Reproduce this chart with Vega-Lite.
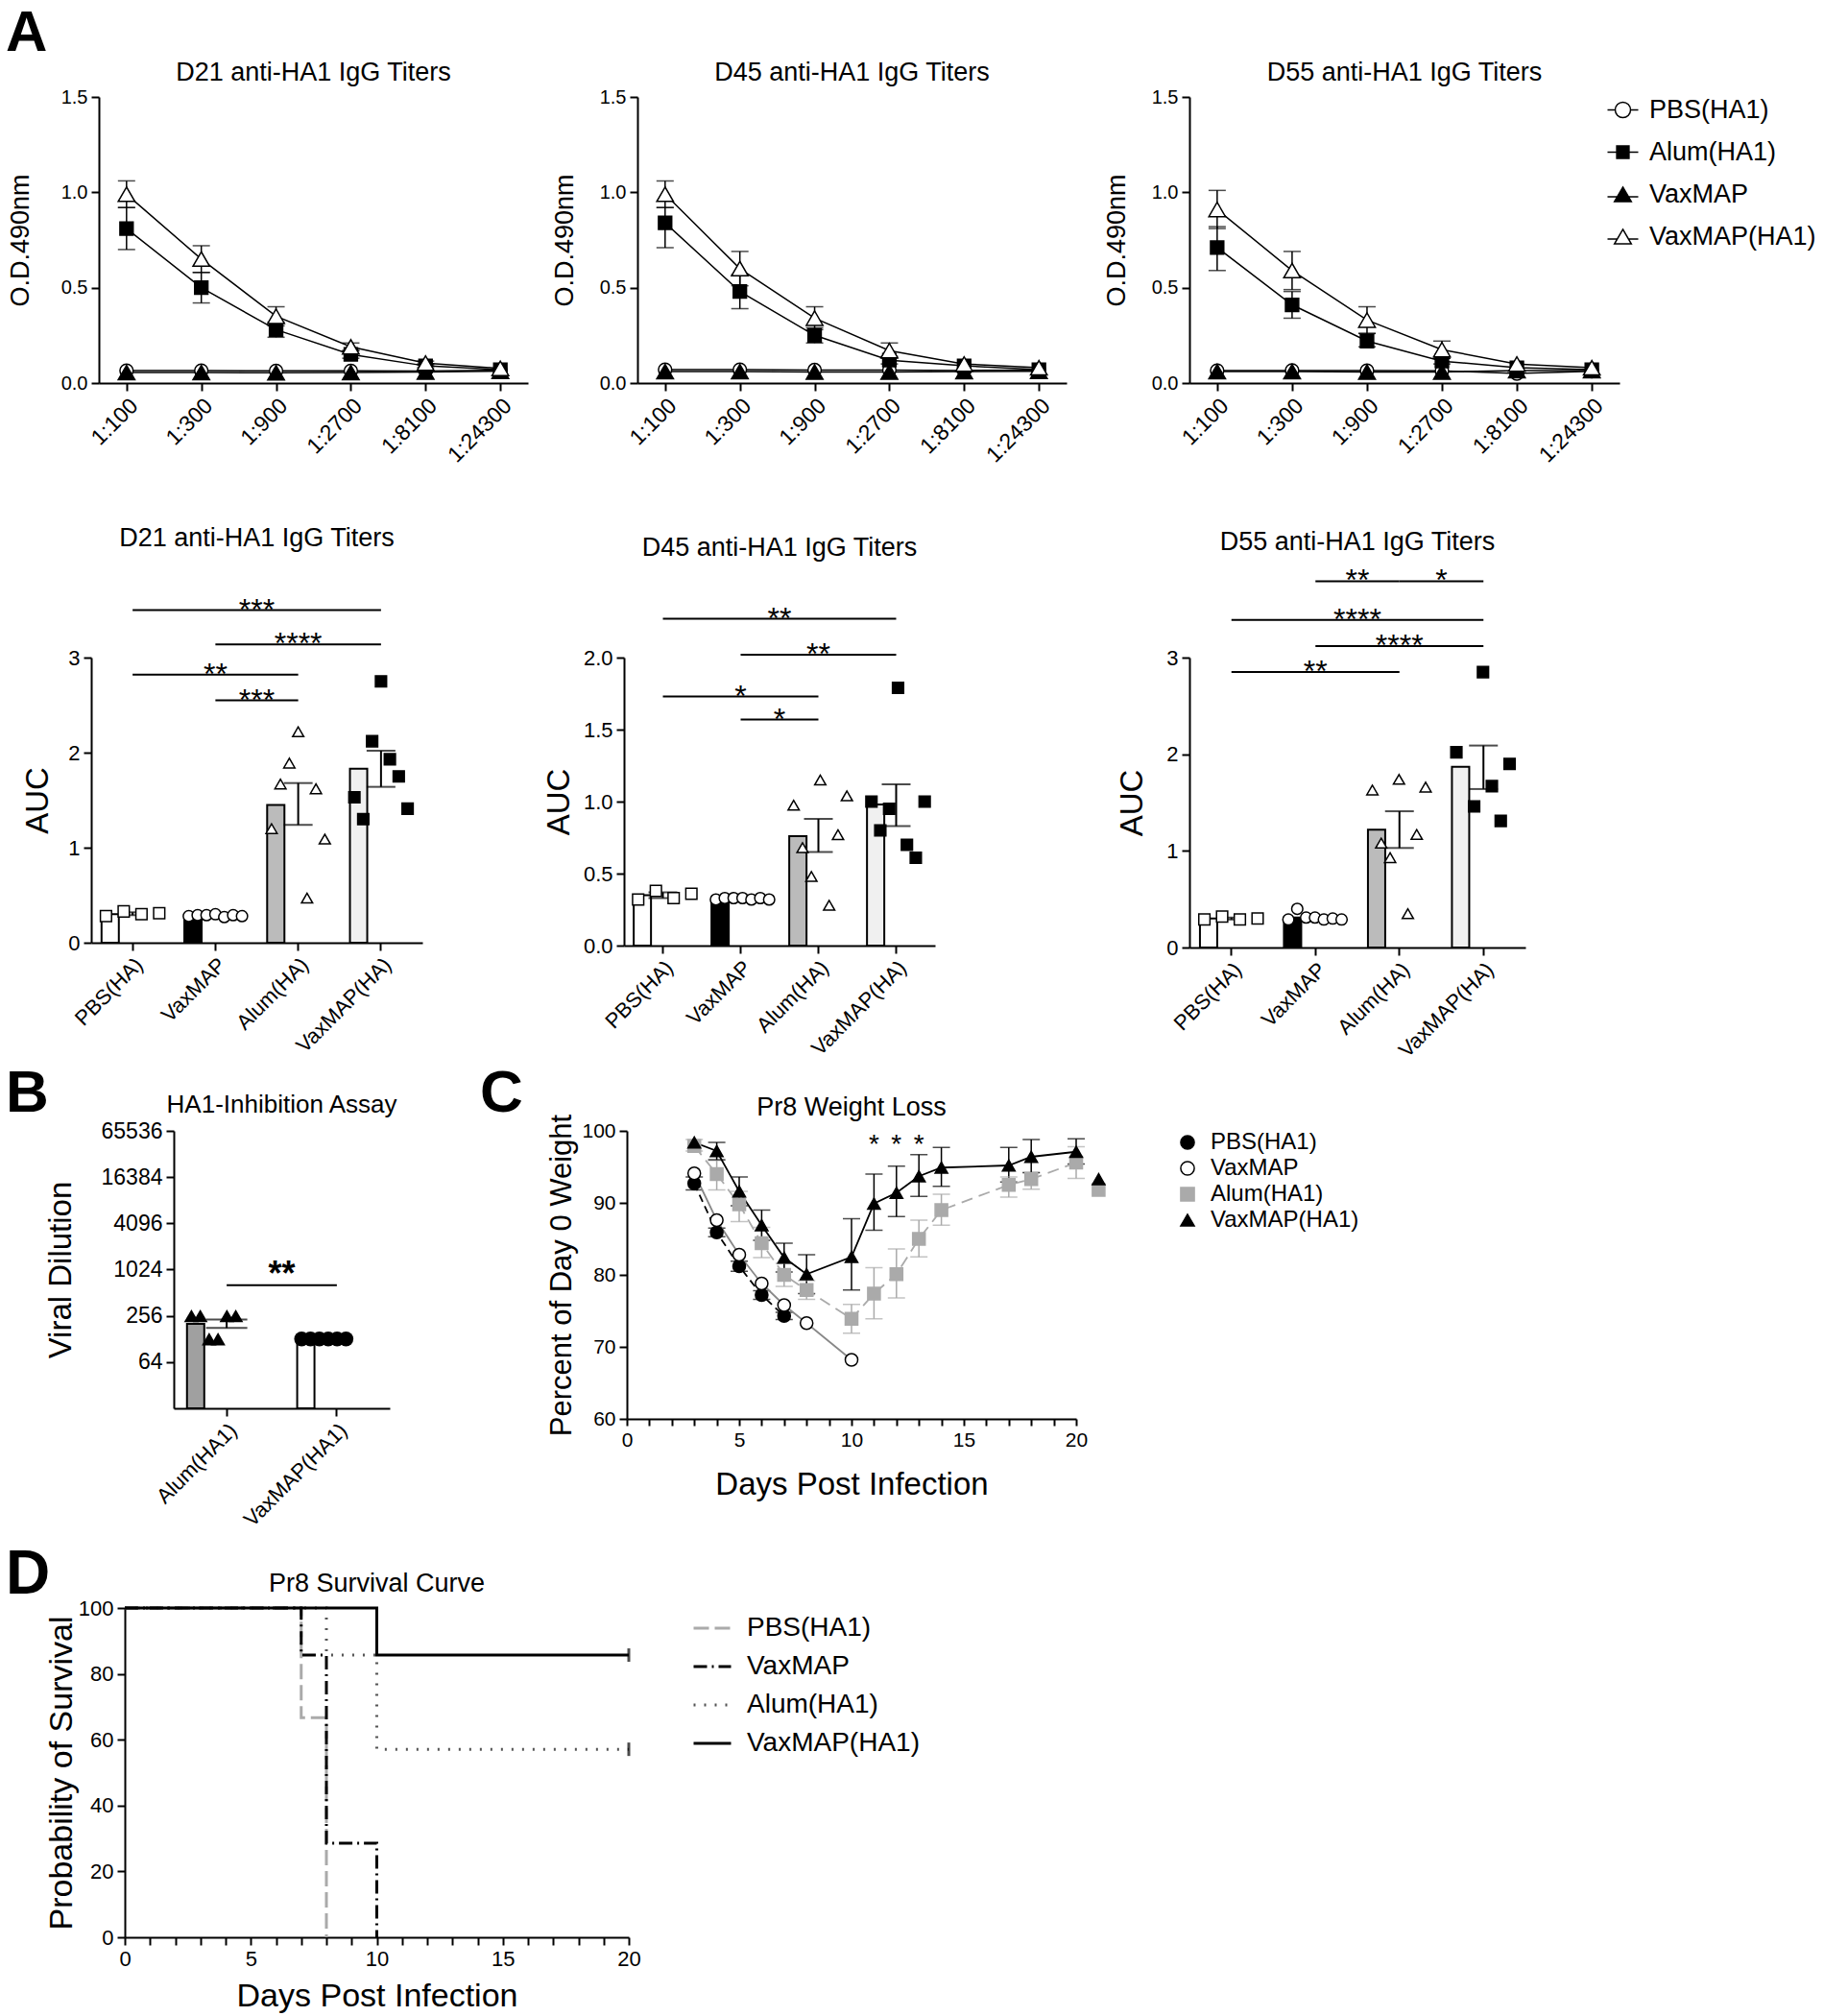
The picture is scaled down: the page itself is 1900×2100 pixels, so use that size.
{
  "$schema": "https://vega.github.io/schema/vega-lite/v6.json",
  "background": "white",
  "padding": 5,
  "config": {
    "font": "Liberation Sans",
    "view": {"stroke": null},
    "axis": {"domainColor": "black", "domainWidth": 2, "tickColor": "black", "tickWidth": 2, "tickSize": 8, "labelColor": "black", "titleColor": "black", "titleFontWeight": "normal", "grid": false, "labelFont": "Liberation Sans", "titleFont": "Liberation Sans", "labelPadding": 4},
    "title": {"fontWeight": "normal", "color": "black", "font": "Liberation Sans"},
    "legend": {"labelColor": "black", "labelFont": "Liberation Sans", "labelLimit": 400}
  },
  "datasets": {
    "od": [
      {"d":"D21","dil":"1:100","grp":"PBS(HA1)","od":0.065},{"d":"D21","dil":"1:300","grp":"PBS(HA1)","od":0.065},{"d":"D21","dil":"1:900","grp":"PBS(HA1)","od":0.064},{"d":"D21","dil":"1:2700","grp":"PBS(HA1)","od":0.064},{"d":"D21","dil":"1:8100","grp":"PBS(HA1)","od":0.063},{"d":"D21","dil":"1:24300","grp":"PBS(HA1)","od":0.068},
      {"d":"D21","dil":"1:100","grp":"VaxMAP","od":0.055},{"d":"D21","dil":"1:300","grp":"VaxMAP","od":0.055},{"d":"D21","dil":"1:900","grp":"VaxMAP","od":0.054},{"d":"D21","dil":"1:2700","grp":"VaxMAP","od":0.055},{"d":"D21","dil":"1:8100","grp":"VaxMAP","od":0.058},{"d":"D21","dil":"1:24300","grp":"VaxMAP","od":0.062},
      {"d":"D21","dil":"1:100","grp":"Alum(HA1)","od":0.81,"lo":0.70,"hi":0.92},{"d":"D21","dil":"1:300","grp":"Alum(HA1)","od":0.50,"lo":0.42,"hi":0.58},{"d":"D21","dil":"1:900","grp":"Alum(HA1)","od":0.28,"lo":0.24,"hi":0.32},{"d":"D21","dil":"1:2700","grp":"Alum(HA1)","od":0.15,"lo":0.13,"hi":0.17},{"d":"D21","dil":"1:8100","grp":"Alum(HA1)","od":0.09,"lo":0.08,"hi":0.10},{"d":"D21","dil":"1:24300","grp":"Alum(HA1)","od":0.07},
      {"d":"D21","dil":"1:100","grp":"VaxMAP(HA1)","od":0.99,"lo":0.92,"hi":1.06},{"d":"D21","dil":"1:300","grp":"VaxMAP(HA1)","od":0.65,"lo":0.58,"hi":0.72},{"d":"D21","dil":"1:900","grp":"VaxMAP(HA1)","od":0.35,"lo":0.30,"hi":0.40},{"d":"D21","dil":"1:2700","grp":"VaxMAP(HA1)","od":0.19,"lo":0.17,"hi":0.21},{"d":"D21","dil":"1:8100","grp":"VaxMAP(HA1)","od":0.105,"lo":0.095,"hi":0.115},{"d":"D21","dil":"1:24300","grp":"VaxMAP(HA1)","od":0.077},
      {"d":"D45","dil":"1:100","grp":"PBS(HA1)","od":0.07},{"d":"D45","dil":"1:300","grp":"PBS(HA1)","od":0.07},{"d":"D45","dil":"1:900","grp":"PBS(HA1)","od":0.068},{"d":"D45","dil":"1:2700","grp":"PBS(HA1)","od":0.068},{"d":"D45","dil":"1:8100","grp":"PBS(HA1)","od":0.066},{"d":"D45","dil":"1:24300","grp":"PBS(HA1)","od":0.068},
      {"d":"D45","dil":"1:100","grp":"VaxMAP","od":0.06},{"d":"D45","dil":"1:300","grp":"VaxMAP","od":0.06},{"d":"D45","dil":"1:900","grp":"VaxMAP","od":0.058},{"d":"D45","dil":"1:2700","grp":"VaxMAP","od":0.058},{"d":"D45","dil":"1:8100","grp":"VaxMAP","od":0.06},{"d":"D45","dil":"1:24300","grp":"VaxMAP","od":0.062},
      {"d":"D45","dil":"1:100","grp":"Alum(HA1)","od":0.84,"lo":0.71,"hi":0.92},{"d":"D45","dil":"1:300","grp":"Alum(HA1)","od":0.48,"lo":0.39,"hi":0.57},{"d":"D45","dil":"1:900","grp":"Alum(HA1)","od":0.25,"lo":0.21,"hi":0.29},{"d":"D45","dil":"1:2700","grp":"Alum(HA1)","od":0.12,"lo":0.10,"hi":0.14},{"d":"D45","dil":"1:8100","grp":"Alum(HA1)","od":0.09},{"d":"D45","dil":"1:24300","grp":"Alum(HA1)","od":0.07},
      {"d":"D45","dil":"1:100","grp":"VaxMAP(HA1)","od":0.99,"lo":0.92,"hi":1.06},{"d":"D45","dil":"1:300","grp":"VaxMAP(HA1)","od":0.60,"lo":0.51,"hi":0.69},{"d":"D45","dil":"1:900","grp":"VaxMAP(HA1)","od":0.34,"lo":0.28,"hi":0.40},{"d":"D45","dil":"1:2700","grp":"VaxMAP(HA1)","od":0.17,"lo":0.13,"hi":0.21},{"d":"D45","dil":"1:8100","grp":"VaxMAP(HA1)","od":0.10},{"d":"D45","dil":"1:24300","grp":"VaxMAP(HA1)","od":0.08},
      {"d":"D55","dil":"1:100","grp":"PBS(HA1)","od":0.065},{"d":"D55","dil":"1:300","grp":"PBS(HA1)","od":0.066},{"d":"D55","dil":"1:900","grp":"PBS(HA1)","od":0.065},{"d":"D55","dil":"1:2700","grp":"PBS(HA1)","od":0.064},{"d":"D55","dil":"1:8100","grp":"PBS(HA1)","od":0.05},{"d":"D55","dil":"1:24300","grp":"PBS(HA1)","od":0.062},
      {"d":"D55","dil":"1:100","grp":"VaxMAP","od":0.06},{"d":"D55","dil":"1:300","grp":"VaxMAP","od":0.06},{"d":"D55","dil":"1:900","grp":"VaxMAP","od":0.058},{"d":"D55","dil":"1:2700","grp":"VaxMAP","od":0.058},{"d":"D55","dil":"1:8100","grp":"VaxMAP","od":0.065},{"d":"D55","dil":"1:24300","grp":"VaxMAP","od":0.065},
      {"d":"D55","dil":"1:100","grp":"Alum(HA1)","od":0.71,"lo":0.59,"hi":0.82},{"d":"D55","dil":"1:300","grp":"Alum(HA1)","od":0.41,"lo":0.34,"hi":0.48},{"d":"D55","dil":"1:900","grp":"Alum(HA1)","od":0.22,"lo":0.19,"hi":0.26},{"d":"D55","dil":"1:2700","grp":"Alum(HA1)","od":0.115,"lo":0.10,"hi":0.13},{"d":"D55","dil":"1:8100","grp":"Alum(HA1)","od":0.08},{"d":"D55","dil":"1:24300","grp":"Alum(HA1)","od":0.07},
      {"d":"D55","dil":"1:100","grp":"VaxMAP(HA1)","od":0.91,"lo":0.81,"hi":1.01},{"d":"D55","dil":"1:300","grp":"VaxMAP(HA1)","od":0.59,"lo":0.49,"hi":0.69},{"d":"D55","dil":"1:900","grp":"VaxMAP(HA1)","od":0.33,"lo":0.26,"hi":0.40},{"d":"D55","dil":"1:2700","grp":"VaxMAP(HA1)","od":0.175,"lo":0.13,"hi":0.22},{"d":"D55","dil":"1:8100","grp":"VaxMAP(HA1)","od":0.10},{"d":"D55","dil":"1:24300","grp":"VaxMAP(HA1)","od":0.08}
    ],
    "auc": [
      {"d":"D21","grp":"PBS(HA)","rep":1,"v":0.28},{"d":"D21","grp":"PBS(HA)","rep":3,"v":0.33},{"d":"D21","grp":"PBS(HA)","rep":5,"v":0.30},{"d":"D21","grp":"PBS(HA)","rep":7,"v":0.31},
      {"d":"D21","grp":"VaxMAP","rep":1,"v":0.28},{"d":"D21","grp":"VaxMAP","rep":2,"v":0.29},{"d":"D21","grp":"VaxMAP","rep":3,"v":0.29},{"d":"D21","grp":"VaxMAP","rep":4,"v":0.30},{"d":"D21","grp":"VaxMAP","rep":5,"v":0.27},{"d":"D21","grp":"VaxMAP","rep":6,"v":0.29},{"d":"D21","grp":"VaxMAP","rep":7,"v":0.28},
      {"d":"D21","grp":"Alum(HA)","rep":1,"v":1.20},{"d":"D21","grp":"Alum(HA)","rep":2,"v":1.67},{"d":"D21","grp":"Alum(HA)","rep":3,"v":1.89},{"d":"D21","grp":"Alum(HA)","rep":4,"v":2.22},{"d":"D21","grp":"Alum(HA)","rep":5,"v":0.47},{"d":"D21","grp":"Alum(HA)","rep":6,"v":1.62},{"d":"D21","grp":"Alum(HA)","rep":7,"v":1.09},
      {"d":"D21","grp":"VaxMAP(HA)","rep":1,"v":1.53},{"d":"D21","grp":"VaxMAP(HA)","rep":2,"v":1.30},{"d":"D21","grp":"VaxMAP(HA)","rep":3,"v":2.12},{"d":"D21","grp":"VaxMAP(HA)","rep":4,"v":2.75},{"d":"D21","grp":"VaxMAP(HA)","rep":5,"v":1.93},{"d":"D21","grp":"VaxMAP(HA)","rep":6,"v":1.75},{"d":"D21","grp":"VaxMAP(HA)","rep":7,"v":1.41},
      {"d":"D45","grp":"PBS(HA)","rep":1,"v":0.32},{"d":"D45","grp":"PBS(HA)","rep":3,"v":0.38},{"d":"D45","grp":"PBS(HA)","rep":5,"v":0.33},{"d":"D45","grp":"PBS(HA)","rep":7,"v":0.36},
      {"d":"D45","grp":"VaxMAP","rep":1,"v":0.32},{"d":"D45","grp":"VaxMAP","rep":2,"v":0.33},{"d":"D45","grp":"VaxMAP","rep":3,"v":0.33},{"d":"D45","grp":"VaxMAP","rep":4,"v":0.33},{"d":"D45","grp":"VaxMAP","rep":5,"v":0.32},{"d":"D45","grp":"VaxMAP","rep":6,"v":0.33},{"d":"D45","grp":"VaxMAP","rep":7,"v":0.32},
      {"d":"D45","grp":"Alum(HA)","rep":1,"v":0.975},{"d":"D45","grp":"Alum(HA)","rep":2,"v":0.68},{"d":"D45","grp":"Alum(HA)","rep":3,"v":0.48},{"d":"D45","grp":"Alum(HA)","rep":4,"v":1.15},{"d":"D45","grp":"Alum(HA)","rep":5,"v":0.28},{"d":"D45","grp":"Alum(HA)","rep":6,"v":0.77},{"d":"D45","grp":"Alum(HA)","rep":7,"v":1.04},
      {"d":"D45","grp":"VaxMAP(HA)","rep":1,"v":1.0},{"d":"D45","grp":"VaxMAP(HA)","rep":2,"v":0.80},{"d":"D45","grp":"VaxMAP(HA)","rep":3,"v":0.95},{"d":"D45","grp":"VaxMAP(HA)","rep":4,"v":1.79},{"d":"D45","grp":"VaxMAP(HA)","rep":5,"v":0.70},{"d":"D45","grp":"VaxMAP(HA)","rep":6,"v":0.61},{"d":"D45","grp":"VaxMAP(HA)","rep":7,"v":1.0},
      {"d":"D55","grp":"PBS(HA)","rep":1,"v":0.29},{"d":"D55","grp":"PBS(HA)","rep":3,"v":0.32},{"d":"D55","grp":"PBS(HA)","rep":5,"v":0.29},{"d":"D55","grp":"PBS(HA)","rep":7,"v":0.30},
      {"d":"D55","grp":"VaxMAP","rep":1,"v":0.29},{"d":"D55","grp":"VaxMAP","rep":2,"v":0.40},{"d":"D55","grp":"VaxMAP","rep":3,"v":0.31},{"d":"D55","grp":"VaxMAP","rep":4,"v":0.31},{"d":"D55","grp":"VaxMAP","rep":5,"v":0.29},{"d":"D55","grp":"VaxMAP","rep":6,"v":0.30},{"d":"D55","grp":"VaxMAP","rep":7,"v":0.29},
      {"d":"D55","grp":"Alum(HA)","rep":1,"v":1.63},{"d":"D55","grp":"Alum(HA)","rep":2,"v":1.08},{"d":"D55","grp":"Alum(HA)","rep":3,"v":0.93},{"d":"D55","grp":"Alum(HA)","rep":4,"v":1.74},{"d":"D55","grp":"Alum(HA)","rep":5,"v":0.35},{"d":"D55","grp":"Alum(HA)","rep":6,"v":1.17},{"d":"D55","grp":"Alum(HA)","rep":7,"v":1.66},
      {"d":"D55","grp":"VaxMAP(HA)","rep":1,"v":2.02},{"d":"D55","grp":"VaxMAP(HA)","rep":3,"v":1.46},{"d":"D55","grp":"VaxMAP(HA)","rep":4,"v":2.85},{"d":"D55","grp":"VaxMAP(HA)","rep":5,"v":1.67},{"d":"D55","grp":"VaxMAP(HA)","rep":6,"v":1.31},{"d":"D55","grp":"VaxMAP(HA)","rep":7,"v":1.90}
    ],
    "aucbar": [
      {"d":"D21","grp":"PBS(HA)","mean":0.30,"lo":0.29,"hi":0.32},{"d":"D21","grp":"VaxMAP","mean":0.286},{"d":"D21","grp":"Alum(HA)","mean":1.45,"lo":1.24,"hi":1.68},{"d":"D21","grp":"VaxMAP(HA)","mean":1.83,"lo":1.64,"hi":2.02},
      {"d":"D45","grp":"PBS(HA)","mean":0.35,"lo":0.33,"hi":0.37},{"d":"D45","grp":"VaxMAP","mean":0.33},{"d":"D45","grp":"Alum(HA)","mean":0.76,"lo":0.65,"hi":0.88},{"d":"D45","grp":"VaxMAP(HA)","mean":0.98,"lo":0.83,"hi":1.12},
      {"d":"D55","grp":"PBS(HA)","mean":0.30,"lo":0.29,"hi":0.31},{"d":"D55","grp":"VaxMAP","mean":0.31},{"d":"D55","grp":"Alum(HA)","mean":1.22,"lo":1.03,"hi":1.41},{"d":"D55","grp":"VaxMAP(HA)","mean":1.87,"lo":1.64,"hi":2.09}
    ],
    "sig": [
      {"d":"D21","g1":"PBS(HA)","g2":"VaxMAP(HA)","y":3.5,"lab":"***"},{"d":"D21","g1":"VaxMAP","g2":"VaxMAP(HA)","y":3.14,"lab":"****"},{"d":"D21","g1":"PBS(HA)","g2":"Alum(HA)","y":2.82,"lab":"**"},{"d":"D21","g1":"VaxMAP","g2":"Alum(HA)","y":2.55,"lab":"***"},
      {"d":"D45","g1":"PBS(HA)","g2":"VaxMAP(HA)","y":2.27,"lab":"**"},{"d":"D45","g1":"VaxMAP","g2":"VaxMAP(HA)","y":2.02,"lab":"**"},{"d":"D45","g1":"PBS(HA)","g2":"Alum(HA)","y":1.73,"lab":"*"},{"d":"D45","g1":"VaxMAP","g2":"Alum(HA)","y":1.57,"lab":"*"},
      {"d":"D55","g1":"VaxMAP","g2":"Alum(HA)","y":3.79,"lab":"**"},{"d":"D55","g1":"Alum(HA)","g2":"VaxMAP(HA)","y":3.79,"lab":"*"},{"d":"D55","g1":"PBS(HA)","g2":"VaxMAP(HA)","y":3.39,"lab":"****"},{"d":"D55","g1":"VaxMAP","g2":"VaxMAP(HA)","y":3.12,"lab":"****"},{"d":"D55","g1":"PBS(HA)","g2":"Alum(HA)","y":2.85,"lab":"**"}
    ],
    "hai": [
      {"grp":"Alum(HA1)","rep":1,"v":256},{"grp":"Alum(HA1)","rep":2,"v":256},{"grp":"Alum(HA1)","rep":3,"v":128},{"grp":"Alum(HA1)","rep":4,"v":128},{"grp":"Alum(HA1)","rep":5,"v":256},{"grp":"Alum(HA1)","rep":6,"v":256},
      {"grp":"VaxMAP(HA1)","rep":1,"v":128},{"grp":"VaxMAP(HA1)","rep":2,"v":128},{"grp":"VaxMAP(HA1)","rep":3,"v":128},{"grp":"VaxMAP(HA1)","rep":4,"v":128},{"grp":"VaxMAP(HA1)","rep":5,"v":128},{"grp":"VaxMAP(HA1)","rep":6,"v":128}
    ],
    "haibar": [
      {"grp":"Alum(HA1)","mean":202,"lo":178,"hi":230},{"grp":"VaxMAP(HA1)","mean":128}
    ],
    "haisig": [
      {"g1":"Alum(HA1)","g2":"VaxMAP(HA1)","y":640,"lab":"**"}
    ],
    "wt": [
      {"grp":"PBS(HA1)","day":3,"w":92.7,"lo":91.8,"hi":93.6},{"grp":"PBS(HA1)","day":4,"w":85.9,"lo":85.3,"hi":86.5},{"grp":"PBS(HA1)","day":5,"w":81.2,"lo":80.5,"hi":81.9},{"grp":"PBS(HA1)","day":6,"w":77.2,"lo":76.6,"hi":77.8},{"grp":"PBS(HA1)","day":7,"w":74.3,"lo":73.8,"hi":74.8},
      {"grp":"VaxMAP","day":3,"w":94.1},{"grp":"VaxMAP","day":4,"w":87.6},{"grp":"VaxMAP","day":5,"w":82.8},{"grp":"VaxMAP","day":6,"w":78.8},{"grp":"VaxMAP","day":7,"w":75.8},{"grp":"VaxMAP","day":8,"w":73.3},{"grp":"VaxMAP","day":10,"w":68.2},
      {"grp":"Alum(HA1)","day":3,"w":97.9,"lo":97.2,"hi":98.8},{"grp":"Alum(HA1)","day":4,"w":94.0,"lo":91.8,"hi":95.9},{"grp":"Alum(HA1)","day":5,"w":89.8,"lo":87.4,"hi":91.6},{"grp":"Alum(HA1)","day":6,"w":84.4,"lo":82.4,"hi":86.6},{"grp":"Alum(HA1)","day":7,"w":80.0,"lo":78.4,"hi":81.6},{"grp":"Alum(HA1)","day":8,"w":77.9,"lo":76.6,"hi":79.2},{"grp":"Alum(HA1)","day":10,"w":73.9,"lo":71.9,"hi":75.9},{"grp":"Alum(HA1)","day":11,"w":77.4,"lo":73.9,"hi":81.0},{"grp":"Alum(HA1)","day":12,"w":80.1,"lo":76.8,"hi":83.6},{"grp":"Alum(HA1)","day":13,"w":85.0,"lo":82.5,"hi":87.6},{"grp":"Alum(HA1)","day":14,"w":89.0,"lo":86.9,"hi":91.2},{"grp":"Alum(HA1)","day":17,"w":92.5,"lo":90.8,"hi":93.6},{"grp":"Alum(HA1)","day":18,"w":93.3,"lo":91.9,"hi":94.2},{"grp":"Alum(HA1)","day":20,"w":95.6,"lo":93.4,"hi":97.8},{"grp":"Alum(HA1)","day":21,"w":91.8},
      {"grp":"VaxMAP(HA1)","day":3,"w":98.4},{"grp":"VaxMAP(HA1)","day":4,"w":97.2,"lo":96.0,"hi":98.4},{"grp":"VaxMAP(HA1)","day":5,"w":91.6,"lo":89.6,"hi":93.6},{"grp":"VaxMAP(HA1)","day":6,"w":86.9,"lo":84.8,"hi":89.0},{"grp":"VaxMAP(HA1)","day":7,"w":82.4,"lo":80.4,"hi":84.4},{"grp":"VaxMAP(HA1)","day":8,"w":80.1,"lo":77.4,"hi":82.8},{"grp":"VaxMAP(HA1)","day":10,"w":82.5,"lo":77.9,"hi":87.8},{"grp":"VaxMAP(HA1)","day":11,"w":89.9,"lo":86.2,"hi":94.0},{"grp":"VaxMAP(HA1)","day":12,"w":91.4,"lo":88.1,"hi":95.1},{"grp":"VaxMAP(HA1)","day":13,"w":93.7,"lo":90.9,"hi":96.7},{"grp":"VaxMAP(HA1)","day":14,"w":94.9,"lo":92.3,"hi":97.7},{"grp":"VaxMAP(HA1)","day":17,"w":95.2,"lo":92.9,"hi":97.7},{"grp":"VaxMAP(HA1)","day":18,"w":96.4,"lo":94.2,"hi":98.8},{"grp":"VaxMAP(HA1)","day":20,"w":97.1,"lo":95.4,"hi":98.9},{"grp":"VaxMAP(HA1)","day":21,"w":93.3}
    ],
    "wtsig": [
      {"day":11,"y":98.0,"lab":"*"},{"day":12,"y":98.0,"lab":"*"},{"day":13,"y":98.0,"lab":"*"}
    ],
    "surv": [
      {"grp":"PBS(HA1)","day":0,"s":100},{"grp":"PBS(HA1)","day":7,"s":66.7},{"grp":"PBS(HA1)","day":8,"s":0},
      {"grp":"VaxMAP","day":0,"s":100},{"grp":"VaxMAP","day":7,"s":85.7},{"grp":"VaxMAP","day":8,"s":28.6},{"grp":"VaxMAP","day":10,"s":0},
      {"grp":"Alum(HA1)","day":0,"s":100},{"grp":"Alum(HA1)","day":8,"s":85.7},{"grp":"Alum(HA1)","day":10,"s":57.1},{"grp":"Alum(HA1)","day":20,"s":57.1},
      {"grp":"VaxMAP(HA1)","day":0,"s":100},{"grp":"VaxMAP(HA1)","day":10,"s":85.7},{"grp":"VaxMAP(HA1)","day":20,"s":85.7}
    ]
  },
  "columns": 1,
  "spacing": 59,
  "resolve": {"scale": {"color": "independent", "fill": "independent", "stroke": "independent", "shape": "independent", "strokeDash": "independent", "size": "independent"}},
  "concat": [
    {
      "title": {"text": "A", "anchor": "start", "fontSize": 60, "fontWeight": "bold", "offset": 2, "dy": 6},
      "spacing": 0,
      "resolve": {"scale": {"color": "independent", "fill": "independent", "stroke": "independent", "shape": "independent", "strokeDash": "independent", "size": "independent"}},
      "hconcat": [
        {"width": 1, "height": 1, "data": {"values": [{}]}, "mark": {"type": "text", "text": ""}},
        {
          "spacing": 38,
          "resolve": {"scale": {"color": "independent", "fill": "independent", "stroke": "independent", "shape": "independent", "strokeDash": "independent", "size": "independent"}},
          "hconcat": [
            {
              "spacing": 24,
              "resolve": {"scale": {"color": "independent", "fill": "independent", "stroke": "independent", "shape": "independent", "strokeDash": "independent", "size": "independent"}},
              "hconcat": [
                {
                  "width": 447, "height": 298,
                  "title": {"text": "D21 anti-HA1 IgG Titers", "fontSize": 27, "offset": 1},
                  "data": {"name": "od"},
                  "transform": [{"filter": "datum.d === 'D21'"}],
                  "encoding": {"x": {"field": "dil", "type": "nominal", "sort": ["1:100","1:300","1:900","1:2700","1:8100","1:24300"], "scale": {"type": "point", "padding": 0.37}, "axis": {"title": null, "labelAngle": -45, "labelAlign": "right", "labelBaseline": "top", "labelFontSize": 23}}},
                  "layer": [
                    {"transform": [{"filter": "isValid(datum.hi)"}], "mark": {"type": "rule", "color": "black", "strokeWidth": 1.5}, "encoding": {"y": {"field": "lo", "type": "quantitative", "scale": {"domain": [0, 1.5], "nice": false}}, "y2": {"field": "hi"}}},
                    {"transform": [{"filter": "isValid(datum.hi)"}], "mark": {"type": "tick", "color": "black", "thickness": 1.5, "size": 18, "orient": "horizontal"}, "encoding": {"y": {"field": "hi", "type": "quantitative", "scale": {"domain": [0, 1.5], "nice": false}}}},
                    {"transform": [{"filter": "isValid(datum.lo)"}], "mark": {"type": "tick", "color": "black", "thickness": 1.5, "size": 18, "orient": "horizontal"}, "encoding": {"y": {"field": "lo", "type": "quantitative", "scale": {"domain": [0, 1.5], "nice": false}}}},
                    {"mark": {"type": "line", "color": "black", "strokeWidth": 1.5}, "encoding": {"y": {"field": "od", "type": "quantitative", "scale": {"domain": [0, 1.5], "nice": false}, "axis": {"title": "O.D.490nm", "titleFontSize": 27, "values": [0, 0.5, 1, 1.5], "format": ".1f", "labelFontSize": 20, "titlePadding": 28}}, "detail": {"field": "grp"}}},
                    {"transform": [{"filter": "datum.grp === 'PBS(HA1)' || datum.grp === 'Alum(HA1)'"}], "mark": {"type": "point", "filled": true, "size": 190, "stroke": "black", "strokeWidth": 1.5, "opacity": 1}, "encoding": {"y": {"field": "od", "type": "quantitative", "scale": {"domain": [0, 1.5], "nice": false}}, "shape": {"field": "grp", "type": "nominal", "scale": {"domain": ["PBS(HA1)","Alum(HA1)","VaxMAP","VaxMAP(HA1)"], "range": ["circle","square","triangle-up","triangle-up"]}, "legend": null}, "fill": {"field": "grp", "type": "nominal", "scale": {"domain": ["PBS(HA1)","Alum(HA1)","VaxMAP","VaxMAP(HA1)"], "range": ["white","black","black","white"]}, "legend": null}}},
                    {"transform": [{"filter": "datum.grp === 'VaxMAP' || datum.grp === 'VaxMAP(HA1)'"}], "mark": {"type": "point", "filled": true, "size": 300, "stroke": "black", "strokeWidth": 1.5, "opacity": 1}, "encoding": {"y": {"field": "od", "type": "quantitative", "scale": {"domain": [0, 1.5], "nice": false}}, "shape": {"field": "grp", "type": "nominal", "scale": {"domain": ["PBS(HA1)","Alum(HA1)","VaxMAP","VaxMAP(HA1)"], "range": ["circle","square","triangle-up","triangle-up"]}, "legend": null}, "fill": {"field": "grp", "type": "nominal", "scale": {"domain": ["PBS(HA1)","Alum(HA1)","VaxMAP","VaxMAP(HA1)"], "range": ["white","black","black","white"]}, "legend": null}}}
                  ]
                },
                {
                  "width": 447, "height": 298,
                  "title": {"text": "D45 anti-HA1 IgG Titers", "fontSize": 27, "offset": 1},
                  "data": {"name": "od"},
                  "transform": [{"filter": "datum.d === 'D45'"}],
                  "encoding": {"x": {"field": "dil", "type": "nominal", "sort": ["1:100","1:300","1:900","1:2700","1:8100","1:24300"], "scale": {"type": "point", "padding": 0.37}, "axis": {"title": null, "labelAngle": -45, "labelAlign": "right", "labelBaseline": "top", "labelFontSize": 23}}},
                  "layer": [
                    {"transform": [{"filter": "isValid(datum.hi)"}], "mark": {"type": "rule", "color": "black", "strokeWidth": 1.5}, "encoding": {"y": {"field": "lo", "type": "quantitative", "scale": {"domain": [0, 1.5], "nice": false}}, "y2": {"field": "hi"}}},
                    {"transform": [{"filter": "isValid(datum.hi)"}], "mark": {"type": "tick", "color": "black", "thickness": 1.5, "size": 18, "orient": "horizontal"}, "encoding": {"y": {"field": "hi", "type": "quantitative", "scale": {"domain": [0, 1.5], "nice": false}}}},
                    {"transform": [{"filter": "isValid(datum.lo)"}], "mark": {"type": "tick", "color": "black", "thickness": 1.5, "size": 18, "orient": "horizontal"}, "encoding": {"y": {"field": "lo", "type": "quantitative", "scale": {"domain": [0, 1.5], "nice": false}}}},
                    {"mark": {"type": "line", "color": "black", "strokeWidth": 1.5}, "encoding": {"y": {"field": "od", "type": "quantitative", "scale": {"domain": [0, 1.5], "nice": false}, "axis": {"title": "O.D.490nm", "titleFontSize": 27, "values": [0, 0.5, 1, 1.5], "format": ".1f", "labelFontSize": 20, "titlePadding": 22}}, "detail": {"field": "grp"}}},
                    {"transform": [{"filter": "datum.grp === 'PBS(HA1)' || datum.grp === 'Alum(HA1)'"}], "mark": {"type": "point", "filled": true, "size": 190, "stroke": "black", "strokeWidth": 1.5, "opacity": 1}, "encoding": {"y": {"field": "od", "type": "quantitative", "scale": {"domain": [0, 1.5], "nice": false}}, "shape": {"field": "grp", "type": "nominal", "scale": {"domain": ["PBS(HA1)","Alum(HA1)","VaxMAP","VaxMAP(HA1)"], "range": ["circle","square","triangle-up","triangle-up"]}, "legend": null}, "fill": {"field": "grp", "type": "nominal", "scale": {"domain": ["PBS(HA1)","Alum(HA1)","VaxMAP","VaxMAP(HA1)"], "range": ["white","black","black","white"]}, "legend": null}}},
                    {"transform": [{"filter": "datum.grp === 'VaxMAP' || datum.grp === 'VaxMAP(HA1)'"}], "mark": {"type": "point", "filled": true, "size": 300, "stroke": "black", "strokeWidth": 1.5, "opacity": 1}, "encoding": {"y": {"field": "od", "type": "quantitative", "scale": {"domain": [0, 1.5], "nice": false}}, "shape": {"field": "grp", "type": "nominal", "scale": {"domain": ["PBS(HA1)","Alum(HA1)","VaxMAP","VaxMAP(HA1)"], "range": ["circle","square","triangle-up","triangle-up"]}, "legend": null}, "fill": {"field": "grp", "type": "nominal", "scale": {"domain": ["PBS(HA1)","Alum(HA1)","VaxMAP","VaxMAP(HA1)"], "range": ["white","black","black","white"]}, "legend": null}}}
                  ]
                }
              ]
            },
            {
              "resolve": {"scale": {"color": "independent", "fill": "independent", "stroke": "independent", "shape": "independent", "strokeDash": "independent", "size": "independent"}},
              "vconcat": [
                {
                  "width": 448, "height": 298,
                  "title": {"text": "D55 anti-HA1 IgG Titers", "fontSize": 27, "offset": 1},
                  "data": {"name": "od"},
                  "transform": [{"filter": "datum.d === 'D55'"}],
                  "encoding": {"x": {"field": "dil", "type": "nominal", "sort": ["1:100","1:300","1:900","1:2700","1:8100","1:24300"], "scale": {"type": "point", "padding": 0.37}, "axis": {"title": null, "labelAngle": -45, "labelAlign": "right", "labelBaseline": "top", "labelFontSize": 23}}},
                  "resolve": {"scale": {"shape": "independent", "fill": "independent", "stroke": "independent"}},
                  "layer": [
                    {"transform": [{"filter": "isValid(datum.hi)"}], "mark": {"type": "rule", "color": "black", "strokeWidth": 1.5}, "encoding": {"y": {"field": "lo", "type": "quantitative", "scale": {"domain": [0, 1.5], "nice": false}}, "y2": {"field": "hi"}}},
                    {"transform": [{"filter": "isValid(datum.hi)"}], "mark": {"type": "tick", "color": "black", "thickness": 1.5, "size": 18, "orient": "horizontal"}, "encoding": {"y": {"field": "hi", "type": "quantitative", "scale": {"domain": [0, 1.5], "nice": false}}}},
                    {"transform": [{"filter": "isValid(datum.lo)"}], "mark": {"type": "tick", "color": "black", "thickness": 1.5, "size": 18, "orient": "horizontal"}, "encoding": {"y": {"field": "lo", "type": "quantitative", "scale": {"domain": [0, 1.5], "nice": false}}}},
                    {"mark": {"type": "line", "color": "black", "strokeWidth": 1.5}, "encoding": {"y": {"field": "od", "type": "quantitative", "scale": {"domain": [0, 1.5], "nice": false}, "axis": {"title": "O.D.490nm", "titleFontSize": 27, "values": [0, 0.5, 1, 1.5], "format": ".1f", "labelFontSize": 20, "titlePadding": 22}}, "detail": {"field": "grp"}}},
                    {"transform": [{"filter": "datum.grp === 'PBS(HA1)' || datum.grp === 'Alum(HA1)'"}], "mark": {"type": "point", "filled": true, "size": 190, "stroke": "black", "strokeWidth": 1.5, "opacity": 1}, "encoding": {"y": {"field": "od", "type": "quantitative", "scale": {"domain": [0, 1.5], "nice": false}}, "shape": {"field": "grp", "type": "nominal", "scale": {"domain": ["PBS(HA1)","Alum(HA1)","VaxMAP","VaxMAP(HA1)"], "range": ["circle","square","triangle-up","triangle-up"]}, "legend": null}, "fill": {"field": "grp", "type": "nominal", "scale": {"domain": ["PBS(HA1)","Alum(HA1)","VaxMAP","VaxMAP(HA1)"], "range": ["white","black","black","white"]}, "legend": null}}},
                    {"transform": [{"filter": "datum.grp === 'VaxMAP' || datum.grp === 'VaxMAP(HA1)'"}], "mark": {"type": "point", "filled": true, "size": 300, "stroke": "black", "strokeWidth": 1.5, "opacity": 1}, "encoding": {"y": {"field": "od", "type": "quantitative", "scale": {"domain": [0, 1.5], "nice": false}}, "shape": {"field": "grp", "type": "nominal", "scale": {"domain": ["PBS(HA1)","Alum(HA1)","VaxMAP","VaxMAP(HA1)"], "range": ["circle","square","triangle-up","triangle-up"]}, "legend": null}, "fill": {"field": "grp", "type": "nominal", "scale": {"domain": ["PBS(HA1)","Alum(HA1)","VaxMAP","VaxMAP(HA1)"], "range": ["white","black","black","white"]}, "legend": null}}},
                    {"transform": [{"filter": "datum.d === 'none'"}], "mark": {"type": "point", "filled": true, "opacity": 1, "strokeWidth": 1.5}, "encoding": {"y": {"field": "od", "type": "quantitative", "scale": {"domain": [0, 1.5], "nice": false}},
                      "shape": {"field": "grp", "type": "nominal", "scale": {"domain": ["PBS(HA1)","Alum(HA1)","VaxMAP","VaxMAP(HA1)"], "range": ["M-2,0H-1M1,0H2M-1,0A1,1,0,1,1,1,0A1,1,0,1,1,-1,0Z", "M-2,0H-0.8M0.8,0H2M-0.8,-0.8H0.8V0.8H-0.8Z", "M-2,0.3H-0.75M0.75,0.3H2M0,-0.95L1.1,0.95H-1.1Z", "M-2,0.3H-0.75M0.75,0.3H2M0,-0.95L1.1,0.95H-1.1Z"]}, "legend": {"title": null, "orient": "right", "offset": -10, "labelFontSize": 27, "labelOffset": 14, "rowPadding": 16, "symbolSize": 256, "symbolStrokeWidth": 1.5, "symbolOpacity": 1, "padding": 0}},
                      "fill": {"field": "grp", "type": "nominal", "scale": {"domain": ["PBS(HA1)","Alum(HA1)","VaxMAP","VaxMAP(HA1)"], "range": ["white","black","black","white"]}},
                      "stroke": {"field": "grp", "type": "nominal", "scale": {"domain": ["PBS(HA1)","Alum(HA1)","VaxMAP","VaxMAP(HA1)"], "range": ["black","black","black","black"]}}}}
                  ]
                }
              ]
            }
          ]
        }
      ]
    },
    {
      "columns": 1,
      "spacing": 1,
      "resolve": {"scale": {"color": "independent", "fill": "independent", "stroke": "independent", "shape": "independent", "strokeDash": "independent", "size": "independent"}},
      "concat": [
        {
          "spacing": 0,
          "resolve": {"scale": {"color": "independent", "fill": "independent", "stroke": "independent", "shape": "independent", "strokeDash": "independent", "size": "independent"}},
          "hconcat": [
            {"width": 17, "height": 1, "data": {"values": [{}]}, "mark": {"type": "text", "text": ""}},
            {
              "spacing": 189,
              "resolve": {"scale": {"color": "independent", "fill": "independent", "stroke": "independent", "shape": "independent", "strokeDash": "independent", "size": "independent"}},
              "hconcat": [
                {
                  "spacing": 126,
                  "resolve": {"scale": {"color": "independent", "fill": "independent", "stroke": "independent", "shape": "independent", "strokeDash": "independent", "size": "independent"}},
                  "hconcat": [
                    {
                      "width": 345, "height": 297,
                      "title": {"text": "D21 anti-HA1 IgG Titers", "fontSize": 27, "offset": 45},
                      "resolve": {"scale": {"x": "independent"}},
                      "layer": [
                        {"data": {"name": "aucbar"}, "transform": [{"filter": "datum.d === 'D21'"}],
                         "encoding": {"x": {"field": "grp", "type": "nominal", "sort": ["PBS(HA)","VaxMAP","Alum(HA)","VaxMAP(HA)"], "scale": {"type": "band", "paddingInner": 0.25, "paddingOuter": 0.125}, "axis": {"title": null, "labelAngle": -45, "labelAlign": "right", "labelBaseline": "top", "labelFontSize": 22}}},
                         "layer": [
                          {"mark": {"type": "bar", "stroke": "black", "strokeWidth": 2}, "encoding": {"y": {"field": "mean", "type": "quantitative", "scale": {"domain": [0, 3], "nice": false}, "axis": {"title": "AUC", "titleFontSize": 33, "values": [0, 1, 2, 3], "format": "d", "labelFontSize": 22, "titlePadding": 14}}, "color": {"field": "grp", "type": "nominal", "scale": {"domain": ["PBS(HA)","VaxMAP","Alum(HA)","VaxMAP(HA)"], "range": ["white","black","#bbbbbb","#f0f0f0"]}, "legend": null}}},
                          {"transform": [{"filter": "isValid(datum.hi)"}], "mark": {"type": "rule", "color": "black", "strokeWidth": 2}, "encoding": {"y": {"field": "lo", "type": "quantitative", "scale": {"domain": [0, 3], "nice": false}}, "y2": {"field": "hi"}}},
                          {"transform": [{"filter": "isValid(datum.hi)"}], "mark": {"type": "tick", "color": "black", "thickness": 2, "size": 30, "orient": "horizontal"}, "encoding": {"y": {"field": "hi", "type": "quantitative", "scale": {"domain": [0, 3], "nice": false}}}},
                          {"transform": [{"filter": "isValid(datum.lo)"}], "mark": {"type": "tick", "color": "black", "thickness": 2, "size": 30, "orient": "horizontal"}, "encoding": {"y": {"field": "lo", "type": "quantitative", "scale": {"domain": [0, 3], "nice": false}}}}
                         ]},
                        {"data": {"name": "auc"}, "transform": [{"filter": "datum.d === 'D21'"}], "mark": {"type": "point", "filled": true, "size": 135, "stroke": "black", "strokeWidth": 1.5, "opacity": 1}, "encoding": {"x": {"field": "grp", "type": "nominal", "sort": ["PBS(HA)","VaxMAP","Alum(HA)","VaxMAP(HA)"], "scale": {"type": "band", "paddingInner": 0.25, "paddingOuter": 0.125}, "axis": null}, "xOffset": {"field": "rep", "type": "nominal", "scale": {"domain": [1,2,3,4,5,6,7]}}, "y": {"field": "v", "type": "quantitative", "scale": {"domain": [0, 3], "nice": false}}, "shape": {"field": "grp", "type": "nominal", "scale": {"domain": ["PBS(HA)","VaxMAP","Alum(HA)","VaxMAP(HA)"], "range": ["square","circle","triangle-up","square"]}, "legend": null}, "fill": {"field": "grp", "type": "nominal", "scale": {"domain": ["PBS(HA)","VaxMAP","Alum(HA)","VaxMAP(HA)"], "range": ["white","white","white","black"]}, "legend": null}}},
                        {"data": {"name": "sig"}, "transform": [{"filter": "datum.d === 'D21'"}, {"calculate": "indexof(['PBS(HA)','VaxMAP','Alum(HA)','VaxMAP(HA)'], datum.g1)", "as": "i1"}, {"calculate": "indexof(['PBS(HA)','VaxMAP','Alum(HA)','VaxMAP(HA)'], datum.g2)", "as": "i2"}, {"calculate": "(datum.i1 + datum.i2) / 2", "as": "xm"}],
                         "layer": [
                          {"mark": {"type": "rule", "color": "black", "strokeWidth": 2}, "encoding": {"x": {"field": "i1", "type": "quantitative", "scale": {"domain": [-0.5, 3.5], "nice": false, "zero": false}, "axis": null}, "x2": {"field": "i2"}, "y": {"field": "y", "type": "quantitative", "scale": {"domain": [0, 3], "nice": false}}}},
                          {"mark": {"type": "text", "fontSize": 32, "baseline": "middle", "color": "black"}, "encoding": {"x": {"field": "xm", "type": "quantitative", "scale": {"domain": [-0.5, 3.5], "nice": false, "zero": false}, "axis": null}, "y": {"field": "y", "type": "quantitative", "scale": {"domain": [0, 3], "nice": false}}, "text": {"field": "lab"}}}
                        ]}
                      ]
                    },
                    {
                      "width": 324, "height": 300,
                      "title": {"text": "D45 anti-HA1 IgG Titers", "fontSize": 27, "offset": 44},
                      "resolve": {"scale": {"x": "independent"}},
                      "layer": [
                        {"data": {"name": "aucbar"}, "transform": [{"filter": "datum.d === 'D45'"}],
                         "encoding": {"x": {"field": "grp", "type": "nominal", "sort": ["PBS(HA)","VaxMAP","Alum(HA)","VaxMAP(HA)"], "scale": {"type": "band", "paddingInner": 0.25, "paddingOuter": 0.125}, "axis": {"title": null, "labelAngle": -45, "labelAlign": "right", "labelBaseline": "top", "labelFontSize": 22}}},
                         "layer": [
                          {"mark": {"type": "bar", "stroke": "black", "strokeWidth": 2}, "encoding": {"y": {"field": "mean", "type": "quantitative", "scale": {"domain": [0, 2], "nice": false}, "axis": {"title": "AUC", "titleFontSize": 33, "values": [0, 0.5, 1, 1.5, 2], "format": ".1f", "labelFontSize": 22, "titlePadding": 8}}, "color": {"field": "grp", "type": "nominal", "scale": {"domain": ["PBS(HA)","VaxMAP","Alum(HA)","VaxMAP(HA)"], "range": ["white","black","#bbbbbb","#f0f0f0"]}, "legend": null}}},
                          {"transform": [{"filter": "isValid(datum.hi)"}], "mark": {"type": "rule", "color": "black", "strokeWidth": 2}, "encoding": {"y": {"field": "lo", "type": "quantitative", "scale": {"domain": [0, 2], "nice": false}}, "y2": {"field": "hi"}}},
                          {"transform": [{"filter": "isValid(datum.hi)"}], "mark": {"type": "tick", "color": "black", "thickness": 2, "size": 30, "orient": "horizontal"}, "encoding": {"y": {"field": "hi", "type": "quantitative", "scale": {"domain": [0, 2], "nice": false}}}},
                          {"transform": [{"filter": "isValid(datum.lo)"}], "mark": {"type": "tick", "color": "black", "thickness": 2, "size": 30, "orient": "horizontal"}, "encoding": {"y": {"field": "lo", "type": "quantitative", "scale": {"domain": [0, 2], "nice": false}}}}
                         ]},
                        {"data": {"name": "auc"}, "transform": [{"filter": "datum.d === 'D45'"}], "mark": {"type": "point", "filled": true, "size": 135, "stroke": "black", "strokeWidth": 1.5, "opacity": 1}, "encoding": {"x": {"field": "grp", "type": "nominal", "sort": ["PBS(HA)","VaxMAP","Alum(HA)","VaxMAP(HA)"], "scale": {"type": "band", "paddingInner": 0.25, "paddingOuter": 0.125}, "axis": null}, "xOffset": {"field": "rep", "type": "nominal", "scale": {"domain": [1,2,3,4,5,6,7]}}, "y": {"field": "v", "type": "quantitative", "scale": {"domain": [0, 2], "nice": false}}, "shape": {"field": "grp", "type": "nominal", "scale": {"domain": ["PBS(HA)","VaxMAP","Alum(HA)","VaxMAP(HA)"], "range": ["square","circle","triangle-up","square"]}, "legend": null}, "fill": {"field": "grp", "type": "nominal", "scale": {"domain": ["PBS(HA)","VaxMAP","Alum(HA)","VaxMAP(HA)"], "range": ["white","white","white","black"]}, "legend": null}}},
                        {"data": {"name": "sig"}, "transform": [{"filter": "datum.d === 'D45'"}, {"calculate": "indexof(['PBS(HA)','VaxMAP','Alum(HA)','VaxMAP(HA)'], datum.g1)", "as": "i1"}, {"calculate": "indexof(['PBS(HA)','VaxMAP','Alum(HA)','VaxMAP(HA)'], datum.g2)", "as": "i2"}, {"calculate": "(datum.i1 + datum.i2) / 2", "as": "xm"}],
                         "layer": [
                          {"mark": {"type": "rule", "color": "black", "strokeWidth": 2}, "encoding": {"x": {"field": "i1", "type": "quantitative", "scale": {"domain": [-0.5, 3.5], "nice": false, "zero": false}, "axis": null}, "x2": {"field": "i2"}, "y": {"field": "y", "type": "quantitative", "scale": {"domain": [0, 2], "nice": false}}}},
                          {"mark": {"type": "text", "fontSize": 32, "baseline": "middle", "color": "black"}, "encoding": {"x": {"field": "xm", "type": "quantitative", "scale": {"domain": [-0.5, 3.5], "nice": false, "zero": false}, "axis": null}, "y": {"field": "y", "type": "quantitative", "scale": {"domain": [0, 2], "nice": false}}, "text": {"field": "lab"}}}
                        ]}
                      ]
                    }
                  ]
                },
                {
                  "resolve": {"scale": {"color": "independent", "fill": "independent", "stroke": "independent", "shape": "independent", "strokeDash": "independent", "size": "independent"}},
                  "vconcat": [
                    {
                      "width": 350, "height": 302,
                      "title": {"text": "D55 anti-HA1 IgG Titers", "fontSize": 27, "offset": 10},
                      "resolve": {"scale": {"x": "independent"}},
                      "layer": [
                        {"data": {"name": "aucbar"}, "transform": [{"filter": "datum.d === 'D55'"}],
                         "encoding": {"x": {"field": "grp", "type": "nominal", "sort": ["PBS(HA)","VaxMAP","Alum(HA)","VaxMAP(HA)"], "scale": {"type": "band", "paddingInner": 0.25, "paddingOuter": 0.125}, "axis": {"title": null, "labelAngle": -45, "labelAlign": "right", "labelBaseline": "top", "labelFontSize": 22}}},
                         "layer": [
                          {"mark": {"type": "bar", "stroke": "black", "strokeWidth": 2}, "encoding": {"y": {"field": "mean", "type": "quantitative", "scale": {"domain": [0, 3], "nice": false}, "axis": {"title": "AUC", "titleFontSize": 33, "values": [0, 1, 2, 3], "format": "d", "labelFontSize": 22, "titlePadding": 18}}, "color": {"field": "grp", "type": "nominal", "scale": {"domain": ["PBS(HA)","VaxMAP","Alum(HA)","VaxMAP(HA)"], "range": ["white","black","#bbbbbb","#f0f0f0"]}, "legend": null}}},
                          {"transform": [{"filter": "isValid(datum.hi)"}], "mark": {"type": "rule", "color": "black", "strokeWidth": 2}, "encoding": {"y": {"field": "lo", "type": "quantitative", "scale": {"domain": [0, 3], "nice": false}}, "y2": {"field": "hi"}}},
                          {"transform": [{"filter": "isValid(datum.hi)"}], "mark": {"type": "tick", "color": "black", "thickness": 2, "size": 30, "orient": "horizontal"}, "encoding": {"y": {"field": "hi", "type": "quantitative", "scale": {"domain": [0, 3], "nice": false}}}},
                          {"transform": [{"filter": "isValid(datum.lo)"}], "mark": {"type": "tick", "color": "black", "thickness": 2, "size": 30, "orient": "horizontal"}, "encoding": {"y": {"field": "lo", "type": "quantitative", "scale": {"domain": [0, 3], "nice": false}}}}
                         ]},
                        {"data": {"name": "auc"}, "transform": [{"filter": "datum.d === 'D55'"}], "mark": {"type": "point", "filled": true, "size": 135, "stroke": "black", "strokeWidth": 1.5, "opacity": 1}, "encoding": {"x": {"field": "grp", "type": "nominal", "sort": ["PBS(HA)","VaxMAP","Alum(HA)","VaxMAP(HA)"], "scale": {"type": "band", "paddingInner": 0.25, "paddingOuter": 0.125}, "axis": null}, "xOffset": {"field": "rep", "type": "nominal", "scale": {"domain": [1,2,3,4,5,6,7]}}, "y": {"field": "v", "type": "quantitative", "scale": {"domain": [0, 3], "nice": false}}, "shape": {"field": "grp", "type": "nominal", "scale": {"domain": ["PBS(HA)","VaxMAP","Alum(HA)","VaxMAP(HA)"], "range": ["square","circle","triangle-up","square"]}, "legend": null}, "fill": {"field": "grp", "type": "nominal", "scale": {"domain": ["PBS(HA)","VaxMAP","Alum(HA)","VaxMAP(HA)"], "range": ["white","white","white","black"]}, "legend": null}}},
                        {"data": {"name": "sig"}, "transform": [{"filter": "datum.d === 'D55'"}, {"calculate": "indexof(['PBS(HA)','VaxMAP','Alum(HA)','VaxMAP(HA)'], datum.g1)", "as": "i1"}, {"calculate": "indexof(['PBS(HA)','VaxMAP','Alum(HA)','VaxMAP(HA)'], datum.g2)", "as": "i2"}, {"calculate": "(datum.i1 + datum.i2) / 2", "as": "xm"}],
                         "layer": [
                          {"mark": {"type": "rule", "color": "black", "strokeWidth": 2}, "encoding": {"x": {"field": "i1", "type": "quantitative", "scale": {"domain": [-0.5, 3.5], "nice": false, "zero": false}, "axis": null}, "x2": {"field": "i2"}, "y": {"field": "y", "type": "quantitative", "scale": {"domain": [0, 3], "nice": false}}}},
                          {"mark": {"type": "text", "fontSize": 32, "baseline": "middle", "color": "black"}, "encoding": {"x": {"field": "xm", "type": "quantitative", "scale": {"domain": [-0.5, 3.5], "nice": false, "zero": false}, "axis": null}, "y": {"field": "y", "type": "quantitative", "scale": {"domain": [0, 3], "nice": false}}, "text": {"field": "lab"}}}
                        ]}
                      ]
                    }
                  ]
                }
              ]
            }
          ]
        },
        {
          "columns": 1,
          "spacing": 14,
          "resolve": {"scale": {"color": "independent", "fill": "independent", "stroke": "independent", "shape": "independent", "strokeDash": "independent", "size": "independent"}},
          "concat": [
            {
              "spacing": 85,
              "resolve": {"scale": {"color": "independent", "fill": "independent", "stroke": "independent", "shape": "independent", "strokeDash": "independent", "size": "independent"}},
              "hconcat": [
                {
                  "spacing": -4,
                  "resolve": {"scale": {"color": "independent", "fill": "independent", "stroke": "independent", "shape": "independent", "strokeDash": "independent", "size": "independent"}},
                  "hconcat": [
                    {"width": 45, "height": 1, "data": {"values": [{}]}, "mark": {"type": "text", "text": "B", "fontSize": 62, "fontWeight": "bold", "baseline": "bottom", "align": "center", "dy": -8, "color": "black", "font": "Liberation Sans"}},
                    {
                      "width": 225, "height": 289,
                      "title": {"text": "HA1-Inhibition Assay", "fontSize": 26, "offset": 3},
                      "resolve": {"scale": {"x": "independent"}},
                      "layer": [
                        {"data": {"name": "haibar"},
                         "encoding": {"x": {"field": "grp", "type": "nominal", "sort": ["Alum(HA1)","VaxMAP(HA1)"], "scale": {"type": "band", "paddingInner": 0.28, "paddingOuter": 0.12}, "axis": {"title": null, "labelAngle": -45, "labelAlign": "right", "labelBaseline": "top", "labelFontSize": 22}}},
                         "layer": [
                          {"mark": {"type": "bar", "stroke": "black", "strokeWidth": 2}, "encoding": {"y": {"field": "mean", "type": "quantitative", "scale": {"type": "log", "base": 2, "domain": [16, 65536], "nice": false}, "axis": {"title": "Viral Dilution", "titleFontSize": 33, "values": [64, 256, 1024, 4096, 16384, 65536], "format": "d", "labelFontSize": 23, "titlePadding": 25}}, "y2": {"datum": 16}, "color": {"field": "grp", "type": "nominal", "scale": {"domain": ["Alum(HA1)","VaxMAP(HA1)"], "range": ["#a0a0a0","white"]}, "legend": null}}},
                          {"transform": [{"filter": "isValid(datum.hi)"}], "mark": {"type": "rule", "color": "black", "strokeWidth": 2}, "encoding": {"y": {"field": "lo", "type": "quantitative", "scale": {"type": "log", "base": 2, "domain": [16, 65536], "nice": false}}, "y2": {"field": "hi"}}},
                          {"transform": [{"filter": "isValid(datum.hi)"}], "mark": {"type": "tick", "color": "black", "thickness": 2, "size": 43, "orient": "horizontal"}, "encoding": {"y": {"field": "hi", "type": "quantitative", "scale": {"type": "log", "base": 2, "domain": [16, 65536], "nice": false}}}},
                          {"transform": [{"filter": "isValid(datum.lo)"}], "mark": {"type": "tick", "color": "black", "thickness": 2, "size": 43, "orient": "horizontal"}, "encoding": {"y": {"field": "lo", "type": "quantitative", "scale": {"type": "log", "base": 2, "domain": [16, 65536], "nice": false}}}}
                         ]},
                        {"data": {"name": "hai"}, "mark": {"type": "point", "filled": true, "size": 240, "color": "black", "opacity": 1}, "encoding": {"x": {"field": "grp", "type": "nominal", "sort": ["Alum(HA1)","VaxMAP(HA1)"], "scale": {"type": "band", "paddingInner": 0.28, "paddingOuter": 0.12}, "axis": null}, "xOffset": {"field": "rep", "type": "nominal", "scale": {"domain": [1,2,3,4,5,6]}}, "y": {"field": "v", "type": "quantitative", "scale": {"type": "log", "base": 2, "domain": [16, 65536], "nice": false}}, "shape": {"field": "grp", "type": "nominal", "scale": {"domain": ["Alum(HA1)","VaxMAP(HA1)"], "range": ["triangle-up","circle"]}, "legend": null}}},
                        {"data": {"name": "haisig"}, "transform": [{"calculate": "indexof(['Alum(HA1)','VaxMAP(HA1)'], datum.g1)", "as": "i1"}, {"calculate": "indexof(['Alum(HA1)','VaxMAP(HA1)'], datum.g2)", "as": "i2"}, {"calculate": "(datum.i1 + datum.i2) / 2", "as": "xm"}],
                         "layer": [
                          {"mark": {"type": "rule", "color": "black", "strokeWidth": 2}, "encoding": {"x": {"field": "i1", "type": "quantitative", "scale": {"domain": [-0.48, 1.48], "nice": false, "zero": false}, "axis": null}, "x2": {"field": "i2"}, "y": {"field": "y", "type": "quantitative", "scale": {"type": "log", "base": 2, "domain": [16, 65536], "nice": false}}}},
                          {"mark": {"type": "text", "fontSize": 36, "fontWeight": "bold", "baseline": "alphabetic", "color": "black"}, "encoding": {"x": {"field": "xm", "type": "quantitative", "scale": {"domain": [-0.48, 1.48], "nice": false, "zero": false}, "axis": null}, "y": {"field": "y", "type": "quantitative", "scale": {"type": "log", "base": 2, "domain": [16, 65536], "nice": false}}, "text": {"field": "lab"}}}
                        ]}
                      ]
                    }
                  ]
                },
                {
                  "spacing": 24,
                  "resolve": {"scale": {"color": "independent", "fill": "independent", "stroke": "independent", "shape": "independent", "strokeDash": "independent", "size": "independent"}},
                  "hconcat": [
                    {"width": 45, "height": 1, "data": {"values": [{}]}, "mark": {"type": "text", "text": "C", "fontSize": 62, "fontWeight": "bold", "baseline": "bottom", "align": "center", "dy": -8, "color": "black", "font": "Liberation Sans"}},
                    {
                      "width": 468, "height": 300,
                      "title": {"text": "Pr8 Weight Loss", "fontSize": 27, "offset": -8},
                      "data": {"name": "wt"},
                      "encoding": {"x": {"field": "day", "type": "quantitative", "scale": {"domain": [0, 20], "nice": false}, "axis": {"title": "Days Post Infection", "titleFontSize": 33, "values": [0,1,2,3,4,5,6,7,8,9,10,11,12,13,14,15,16,17,18,19,20], "labelExpr": "datum.value % 5 === 0 ? datum.label : ''", "labelFontSize": 21, "labelFlush": false, "labelOverlap": false, "titlePadding": 20, "tickSize": 7}}},
                      "layer": [
                        {"transform": [{"filter": "isValid(datum.hi)"}], "mark": {"type": "rule", "strokeWidth": 1.5}, "encoding": {"y": {"field": "lo", "type": "quantitative", "scale": {"domain": [60, 100], "nice": false, "zero": false}}, "y2": {"field": "hi"}, "stroke": {"field": "grp", "type": "nominal", "scale": {"domain": ["PBS(HA1)","VaxMAP","Alum(HA1)","VaxMAP(HA1)"], "range": ["black","black","#aaaaaa","black"]}}}},
                        {"transform": [{"filter": "isValid(datum.hi)"}], "mark": {"type": "tick", "thickness": 1.5, "size": 18, "orient": "horizontal"}, "encoding": {"y": {"field": "hi", "type": "quantitative", "scale": {"domain": [60, 100], "nice": false, "zero": false}}, "fill": {"field": "grp", "type": "nominal", "scale": {"domain": ["PBS(HA1)","VaxMAP","Alum(HA1)","VaxMAP(HA1)"], "range": ["black","white","#aaaaaa","black"]}}}},
                        {"transform": [{"filter": "isValid(datum.lo)"}], "mark": {"type": "tick", "thickness": 1.5, "size": 18, "orient": "horizontal"}, "encoding": {"y": {"field": "lo", "type": "quantitative", "scale": {"domain": [60, 100], "nice": false, "zero": false}}, "fill": {"field": "grp", "type": "nominal", "scale": {"domain": ["PBS(HA1)","VaxMAP","Alum(HA1)","VaxMAP(HA1)"], "range": ["black","white","#aaaaaa","black"]}}}},
                        {"transform": [{"filter": "datum.grp === 'PBS(HA1)'"}], "mark": {"type": "line", "strokeWidth": 1.8, "color": "black", "strokeDash": [8, 5]}, "encoding": {"y": {"field": "w", "type": "quantitative", "scale": {"domain": [60, 100], "nice": false, "zero": false}, "axis": {"title": "Percent of Day 0 Weight", "titleFontSize": 31, "values": [60, 70, 80, 90, 100], "labelFontSize": 21, "titlePadding": 4}}}},
                        {"transform": [{"filter": "datum.grp === 'VaxMAP'"}], "mark": {"type": "line", "strokeWidth": 1.8, "color": "#888888"}, "encoding": {"y": {"field": "w", "type": "quantitative", "scale": {"domain": [60, 100], "nice": false, "zero": false}}}},
                        {"transform": [{"filter": "datum.grp === 'Alum(HA1)' && datum.day <= 20"}], "mark": {"type": "line", "strokeWidth": 1.8, "color": "#aaaaaa", "strokeDash": [12, 7]}, "encoding": {"y": {"field": "w", "type": "quantitative", "scale": {"domain": [60, 100], "nice": false, "zero": false}}}},
                        {"transform": [{"filter": "datum.grp === 'VaxMAP(HA1)' && datum.day <= 20"}], "mark": {"type": "line", "strokeWidth": 1.8, "color": "black"}, "encoding": {"y": {"field": "w", "type": "quantitative", "scale": {"domain": [60, 100], "nice": false, "zero": false}}}},
                        {"mark": {"type": "point", "filled": true, "size": 170, "strokeWidth": 1.5, "opacity": 1}, "encoding": {"y": {"field": "w", "type": "quantitative", "scale": {"domain": [60, 100], "nice": false, "zero": false}}, "shape": {"field": "grp", "type": "nominal", "scale": {"domain": ["PBS(HA1)","VaxMAP","Alum(HA1)","VaxMAP(HA1)"], "range": ["circle","circle","square","triangle-up"]}, "legend": {"title": null, "orient": "right", "offset": 104, "labelFontSize": 24, "symbolSize": 200, "rowPadding": 3, "labelOffset": 12, "padding": 0, "symbolStrokeWidth": 1.5}}, "fill": {"field": "grp", "type": "nominal", "scale": {"domain": ["PBS(HA1)","VaxMAP","Alum(HA1)","VaxMAP(HA1)"], "range": ["black","white","#aaaaaa","black"]}}, "stroke": {"field": "grp", "type": "nominal", "scale": {"domain": ["PBS(HA1)","VaxMAP","Alum(HA1)","VaxMAP(HA1)"], "range": ["black","black","#aaaaaa","black"]}}}},
                        {"data": {"name": "wtsig"}, "mark": {"type": "text", "fontSize": 28, "baseline": "middle", "color": "black"}, "encoding": {"y": {"field": "y", "type": "quantitative", "scale": {"domain": [60, 100], "nice": false, "zero": false}}, "text": {"field": "lab"}}}
                      ]
                    }
                  ]
                }
              ]
            },
            {
              "spacing": -6,
              "resolve": {"scale": {"color": "independent", "fill": "independent", "stroke": "independent", "shape": "independent", "strokeDash": "independent", "size": "independent"}},
              "hconcat": [
                {"width": 46, "height": 1, "data": {"values": [{}]}, "mark": {"type": "text", "text": "D", "fontSize": 64, "fontWeight": "bold", "baseline": "bottom", "align": "center", "dy": -3, "color": "black", "font": "Liberation Sans"}},
                {
                  "width": 525, "height": 343,
                  "title": {"text": "Pr8 Survival Curve", "fontSize": 27, "offset": 0},
                  "data": {"name": "surv"},
                  "encoding": {
                    "x": {"field": "day", "type": "quantitative", "scale": {"domain": [0, 20], "nice": false}, "axis": {"title": "Days Post Infection", "titleFontSize": 34, "values": [0,1,2,3,4,5,6,7,8,9,10,11,12,13,14,15,16,17,18,19,20], "labelExpr": "datum.value % 5 === 0 ? datum.label : ''", "labelFontSize": 22, "labelFlush": false, "labelOverlap": false, "titlePadding": 11}},
                    "y": {"field": "s", "type": "quantitative", "scale": {"domain": [0, 100], "nice": false}, "axis": {"title": "Probability of Survival", "titleFontSize": 34, "values": [0, 20, 40, 60, 80, 100], "labelFontSize": 22, "titlePadding": 0}}
                  },
                  "layer": [
                    {"mark": {"type": "line", "interpolate": "step-after", "strokeWidth": 3},
                     "encoding": {
                      "color": {"field": "grp", "type": "nominal", "scale": {"domain": ["PBS(HA1)","VaxMAP","Alum(HA1)","VaxMAP(HA1)"], "range": ["#aaaaaa","black","#555555","black"]}, "legend": {"title": null, "orient": "right", "offset": 60, "labelFontSize": 28, "symbolSize": 1521, "symbolStrokeWidth": 3, "rowPadding": 5, "labelOffset": 15, "padding": 0, "symbolType": "stroke"}},
                      "strokeDash": {"field": "grp", "type": "nominal", "scale": {"domain": ["PBS(HA1)","VaxMAP","Alum(HA1)","VaxMAP(HA1)"], "range": [[16,6],[14,5,2,5],[2,9],[1,0]]}, "legend": {"title": null, "orient": "right", "offset": 60, "labelFontSize": 28, "symbolSize": 1521, "symbolStrokeWidth": 3, "rowPadding": 5, "labelOffset": 15, "padding": 0, "symbolType": "stroke"}}
                     }},
                    {"transform": [{"filter": "datum.day === 20"}], "mark": {"type": "tick", "orient": "vertical", "size": 14, "thickness": 3, "color": "black"}}
                  ]
                }
              ]
            }
          ]
        }
      ]
    }
  ]
}
